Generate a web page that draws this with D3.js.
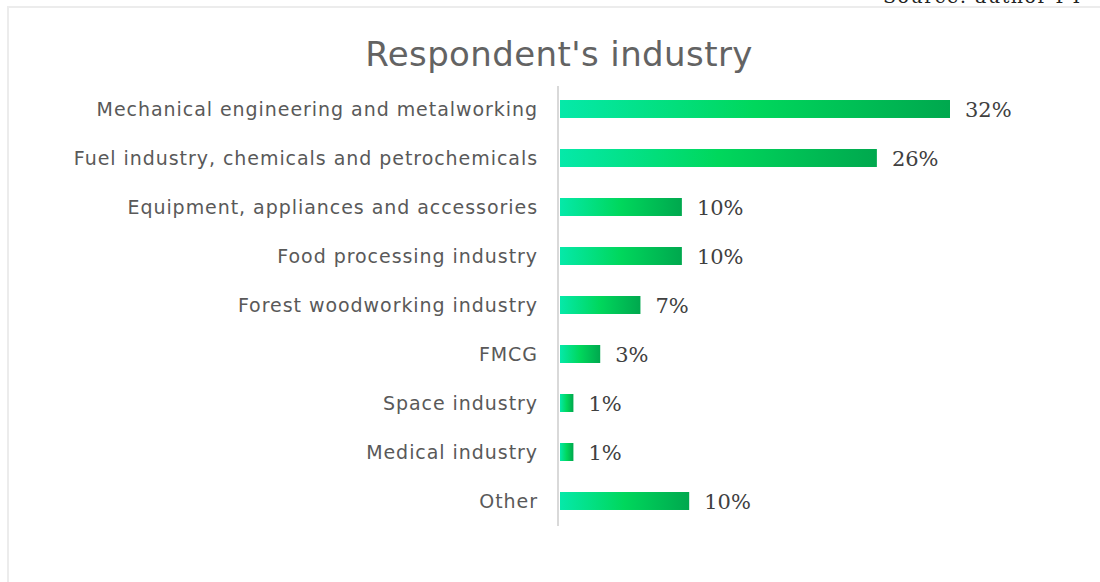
<!DOCTYPE html>
<html>
<head>
<meta charset="utf-8">
<script src="https://cdn.jsdelivr.net/npm/d3@7"></script>
<style>
  body { margin: 0; background: #fff; }
  svg { display: block; }
</style>
</head>
<body>
<svg id="plotSvg"></svg>
<script>
var width = 1100;
var height = 582;

// data
var categories = [
  "Mechanical engineering and metalworking",
  "Fuel industry, chemicals and petrochemicals",
  "Equipment, appliances and accessories",
  "Food processing industry",
  "Forest woodworking industry",
  "FMCG",
  "Space industry",
  "Medical industry",
  "Other "
];
var values = [32, 26, 10, 10, 6.6, 3.3, 1.1, 1.1, 10.6];
var valueLabels = ["32%", "26%", "10%", "10%", "7%", "3%", "1%", "1%", "10%"];

var svg = d3.select("#plotSvg")
  .attr("width", width)
  .attr("height", height);

// chart frame
svg.append("rect")
  .attr("x", 8)
  .attr("y", 7)
  .attr("width", 1200)
  .attr("height", 700)
  .attr("fill", "none")
  .attr("stroke", "#ececec")
  .attr("stroke-width", 2);

// clipped source note at the top
svg.append("text")
  .attr("x", 883)
  .attr("y", 3)
  .attr("font-family", "DejaVu Serif, serif")
  .attr("font-size", 19)
  .attr("letter-spacing", 1.5)
  .attr("fill", "#222")
  .text("Source: author PT");

var defs = svg.append("defs");
var grad = defs.append("linearGradient")
  .attr("id", "barGrad")
  .attr("x1", "0%").attr("x2", "100%")
  .attr("y1", "0%").attr("y2", "0%");
grad.append("stop").attr("offset", "0%").attr("stop-color", "#05e9a9");
grad.append("stop").attr("offset", "50%").attr("stop-color", "#00d75c");
grad.append("stop").attr("offset", "100%").attr("stop-color", "#00a84e");

svg.append("text")
  .attr("x", 559)
  .attr("y", 66)
  .attr("text-anchor", "middle")
  .attr("font-family", "DejaVu Sans, sans-serif")
  .attr("font-size", 34)
  .attr("letter-spacing", 0.4)
  .attr("fill", "#636363")
  .text("Respondent's industry");

var x = d3.scaleLinear()
  .domain([0, 32])
  .range([560, 950]);

var y = d3.scaleBand()
  .domain(categories)
  .range([84.5, 525.5])
  .paddingInner(0.633)
  .paddingOuter(0.3165);

var rows = svg.append("g")
  .selectAll("g")
  .data(categories)
  .enter().append("g");

rows.append("rect")
  .attr("x", x(0))
  .attr("y", function(d) { return y(d); })
  .attr("width", function(d, i) { return x(values[i]) - x(0); })
  .attr("height", y.bandwidth())
  .attr("fill", "url(#barGrad)");

rows.append("text")
  .attr("x", 538)
  .attr("y", function(d) { return y(d) + y.bandwidth() / 2; })
  .attr("dy", "0.35em")
  .attr("text-anchor", "end")
  .attr("font-family", "DejaVu Sans, sans-serif")
  .attr("font-size", 19)
  .attr("letter-spacing", 0.95)
  .attr("fill", "#595959")
  .text(function(d) { return d; });

rows.append("text")
  .attr("x", function(d, i) { return x(values[i]) + 15; })
  .attr("y", function(d) { return y(d) + y.bandwidth() / 2 + 1; })
  .attr("dy", "0.35em")
  .attr("font-family", "DejaVu Serif, serif")
  .attr("font-size", 21)
  .attr("fill", "#404040")
  .text(function(d, i) { return valueLabels[i]; });

// vertical axis line
svg.append("line")
  .attr("x1", 558).attr("x2", 558)
  .attr("y1", 86).attr("y2", 526)
  .attr("stroke", "#d9d9d9")
  .attr("stroke-width", 2);
</script>
</body>
</html>
